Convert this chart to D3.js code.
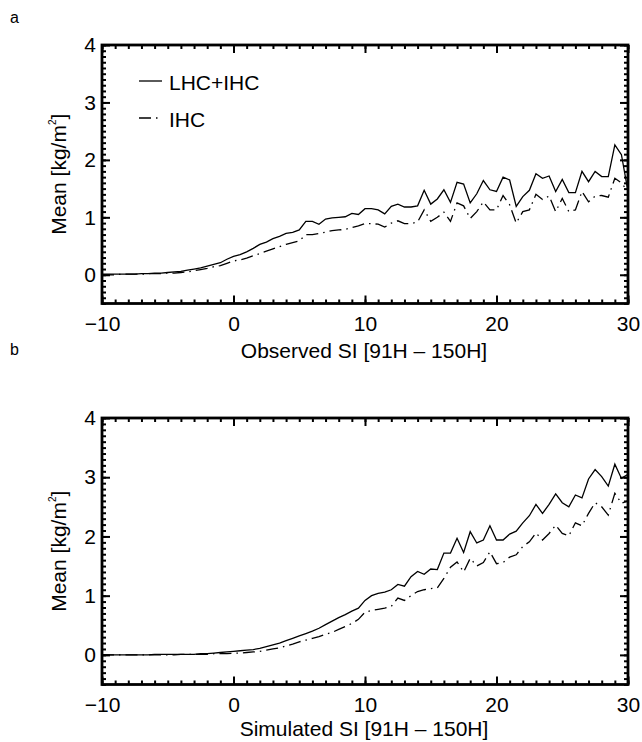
<!DOCTYPE html>
<html>
<head>
<meta charset="utf-8">
<script src="https://cdn.jsdelivr.net/npm/d3@7"></script>
<style>
  html, body { margin: 0; padding: 0; background: #fff; }
  svg { display: block; font-family: "Liberation Sans", Arial, Helvetica, sans-serif; }
</style>
</head>
<body>
<svg id="chart" width="642" height="742"></svg>
<script>
// SI bins: -10 to 30 in steps of 0.5
const siBins = d3.range(-10, 30.001, 0.5);

// Panel a: observed SI
const obsTotal = [
  0.01, 0.01, 0.01, 0.01, 0.01, 0.01, 0.02, 0.02, 0.03, 0.03,
  0.04, 0.05, 0.06, 0.08, 0.10, 0.12, 0.15, 0.18, 0.21, 0.27,
  0.32, 0.35, 0.40, 0.46, 0.53, 0.57, 0.63, 0.67, 0.72, 0.74,
  0.78, 0.93, 0.93, 0.88, 0.97, 0.99, 1.00, 1.01, 1.07, 1.05,
  1.15, 1.15, 1.13, 1.06, 1.19, 1.23, 1.18, 1.18, 1.20, 1.47,
  1.23, 1.32, 1.48, 1.26, 1.61, 1.58, 1.25, 1.41, 1.64, 1.48,
  1.45, 1.70, 1.65, 1.19, 1.36, 1.47, 1.76, 1.68, 1.72, 1.45,
  1.66, 1.43, 1.43, 1.80, 1.62, 1.80, 1.71, 1.71, 2.26, 2.09,
  1.45
];
const obsIce = [
  0.00, 0.00, 0.00, 0.01, 0.01, 0.01, 0.01, 0.02, 0.02, 0.02,
  0.03, 0.03, 0.04, 0.05, 0.07, 0.09, 0.11, 0.14, 0.16, 0.20,
  0.24, 0.26, 0.29, 0.33, 0.37, 0.41, 0.45, 0.49, 0.53, 0.56,
  0.59, 0.70, 0.70, 0.72, 0.74, 0.77, 0.78, 0.79, 0.82, 0.85,
  0.89, 0.89, 0.88, 0.83, 0.90, 0.94, 0.89, 0.89, 0.92, 1.13,
  0.93, 1.00, 1.09, 0.93, 1.25, 1.20, 0.98, 1.10, 1.27, 1.13,
  1.13, 1.38, 1.22, 0.90, 1.10, 1.13, 1.40, 1.31, 1.37, 1.10,
  1.33, 1.10, 1.13, 1.45, 1.27, 1.37, 1.38, 1.35, 1.68, 1.60,
  1.45
];

// Panel b: simulated SI
const simTotal = [
  0.00, 0.00, 0.00, 0.00, 0.00, 0.00, 0.00, 0.00, 0.01, 0.01,
  0.01, 0.01, 0.01, 0.01, 0.01, 0.02, 0.02, 0.03, 0.04, 0.05,
  0.06, 0.07, 0.08, 0.09, 0.11, 0.14, 0.17, 0.20, 0.24, 0.28,
  0.32, 0.36, 0.40, 0.45, 0.51, 0.57, 0.63, 0.68, 0.74, 0.79,
  0.92, 1.00, 1.04, 1.06, 1.10, 1.19, 1.16, 1.32, 1.41, 1.36,
  1.45, 1.44, 1.72, 1.72, 1.97, 1.73, 2.08, 1.89, 1.94, 2.18,
  1.94, 1.94, 2.04, 2.09, 2.23, 2.35, 2.54, 2.39, 2.54, 2.72,
  2.57, 2.50, 2.70, 2.65, 2.97, 3.13, 3.01, 2.85, 3.22, 2.98,
  3.05
];
const simIce = [
  0.00, 0.00, 0.00, 0.00, 0.00, 0.00, 0.00, 0.00, 0.00, 0.00,
  0.00, 0.00, 0.01, 0.01, 0.01, 0.01, 0.01, 0.02, 0.02, 0.02,
  0.03, 0.03, 0.04, 0.05, 0.06, 0.08, 0.10, 0.12, 0.15, 0.18,
  0.22, 0.25, 0.28, 0.31, 0.35, 0.38, 0.43, 0.48, 0.53, 0.60,
  0.72, 0.75, 0.77, 0.79, 0.82, 0.96, 0.92, 1.00, 1.07, 1.10,
  1.12, 1.13, 1.29, 1.48, 1.57, 1.40, 1.63, 1.50, 1.56, 1.74,
  1.54, 1.56, 1.65, 1.69, 1.83, 1.91, 2.06, 1.94, 2.05, 2.19,
  2.05, 2.01, 2.23, 2.18, 2.39, 2.57, 2.50, 2.36, 2.73, 2.56,
  2.60
];

const xTicks = [-10, 0, 10, 20, 30];
const yTicks = [0, 1, 2, 3, 4];
const seriesNames = ["LHC+IHC", "IHC"];

const svg = d3.select("#chart");
const left = 102, right = 628;
const DASH_DOT = "12,5,1.5,5";
const FS = 21;

const panels = [
  { tag: "a", tagY: 23, top: 45, bottom: 303.5, titleY: 357.5, total: obsTotal, ice: obsIce,
    xTitle: "Observed SI [91H \u2013 150H]", legend: true },
  { tag: "b", tagY: 355, top: 418, bottom: 684.5, titleY: 736, total: simTotal, ice: simIce,
    xTitle: "Simulated SI [91H \u2013 150H]", legend: false }
];

panels.forEach(p => {
  const x = d3.scaleLinear().domain([-10, 30]).range([left, right]);
  const y = d3.scaleLinear().domain([-0.5, 4]).range([p.bottom, p.top]);
  const g = svg.append("g");

  // panel letter
  g.append("text").attr("x", 10).attr("y", p.tagY)
    .attr("font-size", 16).text(p.tag);

  // clipped data lines
  const clipId = "clip-" + p.tag;
  g.append("clipPath").attr("id", clipId).append("rect")
    .attr("x", left).attr("y", p.top).attr("width", right - left).attr("height", p.bottom - p.top);
  const line = d3.line().x((d, i) => x(siBins[i])).y(d => y(d));
  const lines = g.append("g").attr("clip-path", `url(#${clipId})`);
  lines.append("path").datum(p.total).attr("d", line)
    .attr("fill", "none").attr("stroke", "#000").attr("stroke-width", 1.3);
  lines.append("path").datum(p.ice).attr("d", line)
    .attr("fill", "none").attr("stroke", "#000").attr("stroke-width", 1.3)
    .attr("stroke-dasharray", DASH_DOT);

  // axes: major ticks labelled, minor ticks unlabelled, all pointing inward
  const fmt = d => (d < 0 ? "\u2212" + Math.abs(d) : d);
  const xMinor = d3.range(-10, 30.001, 1);
  const yMinor = d3.range(-0.5, 4.001, 0.1);

  g.append("g").attr("transform", `translate(0,${p.bottom})`)
    .call(d3.axisBottom(x).tickValues(xTicks).tickSize(-8).tickPadding(13).tickFormat(fmt));
  g.append("g").attr("transform", `translate(0,${p.bottom})`)
    .call(d3.axisBottom(x).tickValues(xMinor).tickSize(-4).tickFormat(""));
  g.append("g").attr("transform", `translate(0,${p.top})`)
    .call(d3.axisTop(x).tickValues(xTicks).tickSize(-8).tickFormat(""));
  g.append("g").attr("transform", `translate(0,${p.top})`)
    .call(d3.axisTop(x).tickValues(xMinor).tickSize(-4).tickFormat(""));

  g.append("g").attr("transform", `translate(${left},0)`)
    .call(d3.axisLeft(y).tickValues(yTicks).tickSize(-8).tickPadding(6).tickFormat(fmt));
  g.append("g").attr("transform", `translate(${left},0)`)
    .call(d3.axisLeft(y).tickValues(yMinor).tickSize(-4).tickFormat(""));
  g.append("g").attr("transform", `translate(${right},0)`)
    .call(d3.axisRight(y).tickValues(yTicks).tickSize(-8).tickFormat(""));
  g.append("g").attr("transform", `translate(${right},0)`)
    .call(d3.axisRight(y).tickValues(yMinor).tickSize(-4).tickFormat(""));

  g.selectAll(".domain").remove();
  g.selectAll(".tick line").attr("stroke", "#000").attr("stroke-width", 2);
  g.selectAll(".tick text").attr("font-size", FS).attr("fill", "#000")
    .attr("font-family", "'Liberation Sans', Arial, sans-serif");

  // frame
  g.append("rect").attr("x", left).attr("y", p.top)
    .attr("width", right - left).attr("height", p.bottom - p.top)
    .attr("fill", "none").attr("stroke", "#000").attr("stroke-width", 2.8);

  // axis titles
  g.append("text").attr("x", (left + right) / 2 - 1).attr("y", p.titleY)
    .attr("text-anchor", "middle").attr("font-size", FS).text(p.xTitle);
  const yt = g.append("text")
    .attr("transform", `translate(66,${(p.top + p.bottom) / 2}) rotate(-90)`)
    .attr("text-anchor", "middle").attr("font-size", FS);
  yt.append("tspan").text("Mean [kg/m");
  yt.append("tspan").attr("font-size", 10).attr("dy", -10).text("2");
  yt.append("tspan").attr("dy", 10).text("]");

  if (p.legend) {
    const lg = g.append("g");
    [0, 1].forEach(i => {
      const ly = 81 + i * 37;
      lg.append("line").attr("x1", 139).attr("x2", 162).attr("y1", ly).attr("y2", ly)
        .attr("stroke", "#000").attr("stroke-width", 1.3)
        .attr("stroke-dasharray", i === 1 ? DASH_DOT : null);
      lg.append("text").attr("x", 169).attr("y", ly + 8.5)
        .attr("font-size", FS).text(seriesNames[i]);
    });
  }
});
</script>
</body>
</html>
